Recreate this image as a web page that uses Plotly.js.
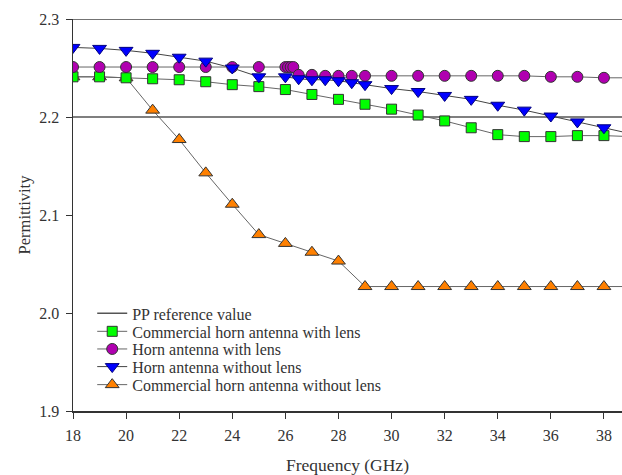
<!DOCTYPE html>
<html>
<head>
<meta charset="utf-8">
<script src="https://cdn.plot.ly/plotly-3.0.1.min.js"></script>
<style>html,body{margin:0;padding:0;background:#fff;}#chart{width:622px;height:475px;}</style>
</head>
<body>
<div id="chart"></div>
<script>
// Reference line
var refX = [18, 39];
var refY = [2.2, 2.2];

// Commercial horn antenna with lens
var cwlX = [18,19,20,21,22,23,24,25,26,27,28,29,30,31,32,33,34,35,36,37,38,39];
var cwlY = [2.241,2.241,2.240,2.239,2.238,2.236,2.233,2.231,2.228,2.223,2.218,2.213,2.208,2.202,2.196,2.189,2.182,2.180,2.180,2.181,2.181,2.180];

// Horn antenna with lens
var hwlX = [18,19,20,21,22,23,24,25,26,26.1,26.2,26.3,26.5,27,27.5,28,28.5,29,30,31,32,33,34,35,36,37,38,39];
var hwlY = [2.251,2.251,2.251,2.251,2.251,2.251,2.251,2.251,2.251,2.251,2.251,2.251,2.243,2.243,2.242,2.242,2.242,2.242,2.242,2.242,2.242,2.242,2.242,2.242,2.241,2.241,2.240,2.240];

// Horn antenna without lens
var hnlX = [18,19,20,21,22,23,24,25,26,26.5,27,27.5,28,28.5,29,30,31,32,33,34,35,36,37,38,39];
var hnlY = [2.271,2.270,2.268,2.265,2.261,2.257,2.250,2.241,2.241,2.239,2.238,2.238,2.237,2.235,2.233,2.229,2.226,2.222,2.218,2.212,2.207,2.201,2.195,2.189,2.183];

// Commercial horn antenna without lens
var cnlX = [18,19,20,21,22,23,24,25,26,27,28,29,30,31,32,33,34,35,36,37,38,39];
var cnlY = [2.241,2.241,2.240,2.207,2.177,2.143,2.111,2.080,2.071,2.062,2.053,2.027,2.027,2.027,2.027,2.027,2.027,2.027,2.027,2.027,2.027,2.027];

// Tick labels
var xTicks = [18,20,22,24,26,28,30,32,34,36,38];
var xTickText = ['18','20','22','24','26','28','30','32','34','36','38'];
var yTicks = [1.9, 2.0, 2.1, 2.2, 2.3];
var yTickText = ['1.9','2.0','2.1','2.2','2.3'];

var lineCol = '#666666';
var edge = {color: '#333333', width: 1};

var traces = [
  {x: cnlX, y: cnlY, name: 'Commercial horn antenna without lens', mode: 'lines+markers', legend: 'legend5',
   line: {color: lineCol, width: 1}, marker: {symbol: 'triangle-up', size: 12, color: '#ff8000', line: edge}},
  {x: refX, y: refY, name: 'PP reference value', mode: 'lines', legend: 'legend',
   line: {color: '#555555', width: 1.5}},
  {x: cwlX, y: cwlY, name: 'Commercial horn antenna with lens', mode: 'lines+markers', legend: 'legend2',
   line: {color: lineCol, width: 1}, marker: {symbol: 'square', size: 10, color: '#00ff00', line: edge}},
  {x: hwlX, y: hwlY, name: 'Horn antenna with lens', mode: 'lines+markers', legend: 'legend3',
   line: {color: lineCol, width: 1}, marker: {symbol: 'circle', size: 11, color: '#b000b0', line: edge}},
  {x: hnlX, y: hnlY, name: 'Horn antenna without lens', mode: 'lines+markers', legend: 'legend4',
   line: {color: '#444444', width: 1}, marker: {symbol: 'triangle-down', size: 12, color: '#0000ff', line: {color: '#000080', width: 1}}}
];

var fontFam = '"Liberation Serif", "Times New Roman", serif';
function leg(yy) {
  return {x: 0.035, y: yy, xanchor: 'left', yanchor: 'middle', bgcolor: 'rgba(0,0,0,0)', borderwidth: 0,
          font: {family: fontFam, size: 16, color: '#333333'}};
}

var layout = {
  width: 622, height: 475,
  margin: {l: 73, r: 0, t: 19, b: 64},
  paper_bgcolor: '#ffffff', plot_bgcolor: '#ffffff',
  font: {family: fontFam, size: 16, color: '#333333'},
  showlegend: true,
  legend: leg(0.249), legend2: leg(0.203), legend3: leg(0.158), legend4: leg(0.113), legend5: leg(0.067),
  xaxis: {range: [18, 38.68], tickvals: xTicks, ticktext: xTickText,
          showgrid: false, zeroline: false, showline: true, linecolor: '#333333', linewidth: 1.5,
          ticks: 'outside', ticklen: 6, tickcolor: '#333333', ticklabelstandoff: 3, tickfont: {family: fontFam, size: 16, color: '#333333'},
          title: {text: 'Frequency (GHz)', font: {family: fontFam, size: 17.5, color: '#333333'}}},
  yaxis: {range: [1.9, 2.3], tickvals: yTicks, ticktext: yTickText,
          showgrid: false, zeroline: false, showline: true, linecolor: '#333333', linewidth: 1.5,
          ticks: 'outside', ticklen: 6, tickcolor: '#333333', ticklabelstandoff: 3, tickfont: {family: fontFam, size: 16, color: '#333333'},
          title: {text: 'Permittivity', font: {family: fontFam, size: 16.5, color: '#333333'}}},
  shapes: [{type: 'line', xref: 'paper', yref: 'y', x0: 0, x1: 1, y0: 2.3, y1: 2.3, line: {color: '#444444', width: 1.5}}]
};

Plotly.newPlot('chart', traces, layout, {displayModeBar: false, staticPlot: true});
</script>
</body>
</html>
